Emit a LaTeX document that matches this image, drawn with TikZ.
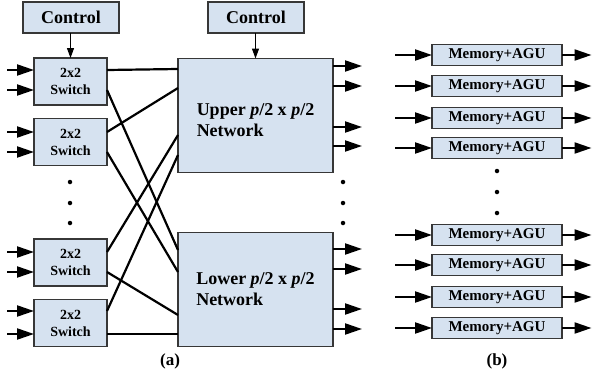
\documentclass[tikz,border=0pt]{standalone}
\usepackage{fontspec}
\setmainfont{Liberation Serif}
\usetikzlibrary{arrows.meta,calc}
\definecolor{boxfill}{RGB}{214,226,240}
\definecolor{boxline}{RGB}{55,55,55}
\begin{document}
\begin{tikzpicture}[x=1pt,y=-1pt,
  blk/.style={draw=boxline, fill=boxfill, line width=1.3pt, inner sep=0pt, outer sep=0pt},
  ctrl/.style={blk, minimum width=96pt, minimum height=31pt, font=\bfseries\fontsize{18}{20}\selectfont},
  swbox/.style={blk, minimum width=73pt, minimum height=47pt, align=center, font=\bfseries\fontsize{14}{17}\selectfont},
  netbox/.style={blk, minimum width=155pt, minimum height=114pt, align=left, font=\bfseries\fontsize{18}{21}\selectfont},
  mem/.style={blk, minimum width=130pt, minimum height=21pt, font=\bfseries\fontsize{15}{17}\selectfont},
  wire/.style={line width=2.2pt},
  arr/.style={line width=2.2pt, -{Triangle[length=17pt,width=11pt]}},
  carr/.style={line width=1.1pt, -{Triangle[length=10pt,width=7pt]}},
  dotn/.style={circle, fill=black, inner sep=0pt, minimum size=4.5pt},
  capt/.style={font=\bfseries\fontsize{17}{19}\selectfont}
]
\useasboundingbox (0,0) rectangle (592,373);

% (a) control boxes
\node[ctrl] (c1) at (71,17.5) {Control};
\node[ctrl] (c2) at (256,17.5) {Control};

% switches
\node[swbox] (sw1) at (70.5,81.5) {2x2\\Switch};
\node[swbox] (sw2) at (70.5,142) {2x2\\Switch};
\node[swbox] (sw3) at (70.5,262.5) {2x2\\Switch};
\node[swbox] (sw4) at (70.5,323) {2x2\\Switch};

% networks
\node[netbox] (up) at (255.5,115.5) {\rule{0pt}{22pt}Upper \textit{p}/2 x \textit{p}/2\\Network};
\node[netbox] (lo) at (255.5,289.5) {Lower \textit{p}/2 x \textit{p}/2\\Network};

% control arrows
\draw[carr] (c1.south -| sw1.north) -- (sw1.north);
\draw[carr] (c2.south -| up.north) -- (up.north);

% input arrows to switches
\foreach \n/\y in {1/70,2/90,3/132,4/152,5/252,6/272,7/311,8/334} {
  \coordinate (i\n) at (7,\y);
  \draw[arr] (i\n) -- (i\n -| sw1.west);
}

% shuffle wires
\draw[wire] (sw1.east |- 0,70)  -- (up.west |- 0,69);
\draw[wire] (sw1.east |- 0,90)  -- (lo.west |- 0,250);
\draw[wire] (sw2.east |- 0,132) -- (up.west |- 0,88);
\draw[wire] (sw2.east |- 0,152) -- (lo.west |- 0,272);
\draw[wire] (sw3.east |- 0,252) -- (up.west |- 0,135);
\draw[wire] (sw3.east |- 0,272) -- (lo.west |- 0,315);
\draw[wire] (sw4.east |- 0,311) -- (up.west |- 0,155);
\draw[wire] (sw4.east |- 0,334) -- (lo.west |- 0,334);

% outputs of networks
\foreach \n/\y in {1/66,2/86,3/127,4/146} {
  \coordinate (uo\n) at (362,\y);
  \draw[arr] (up.east |- uo\n) -- (uo\n);
}
\foreach \n/\y in {1/249,2/269,3/309,4/329} {
  \coordinate (lo\n) at (362,\y);
  \draw[arr] (lo.east |- lo\n) -- (lo\n);
}

% dots
\foreach \n/\y in {1/182,2/203,3/223} {
  \node[dotn] (dl\n) at (70,\y) {};
  \node[dotn] (dr\n) at (343,\y) {};
}

\node[capt] (capa) at (170,361) {(a)};

% (b) memories
\foreach \n/\y in {1/55,2/86,3/118,4/148,5/235,6/265,7/297,8/328} {
  \node[mem] (m\n) at (497,\y) {Memory+AGU};
  \coordinate (mi\n) at (395,\y);
  \coordinate (mo\n) at (591.5,\y);
  \draw[arr] (mi\n) -- (m\n.west);
  \draw[arr] (m\n.east) -- (mo\n);
}
\foreach \n/\y in {1/171,2/192,3/213} {
  \node[dotn] (dm\n) at (497,\y) {};
}
\node[capt] (capb) at (497,361) {(b)};
\end{tikzpicture}
\end{document}
